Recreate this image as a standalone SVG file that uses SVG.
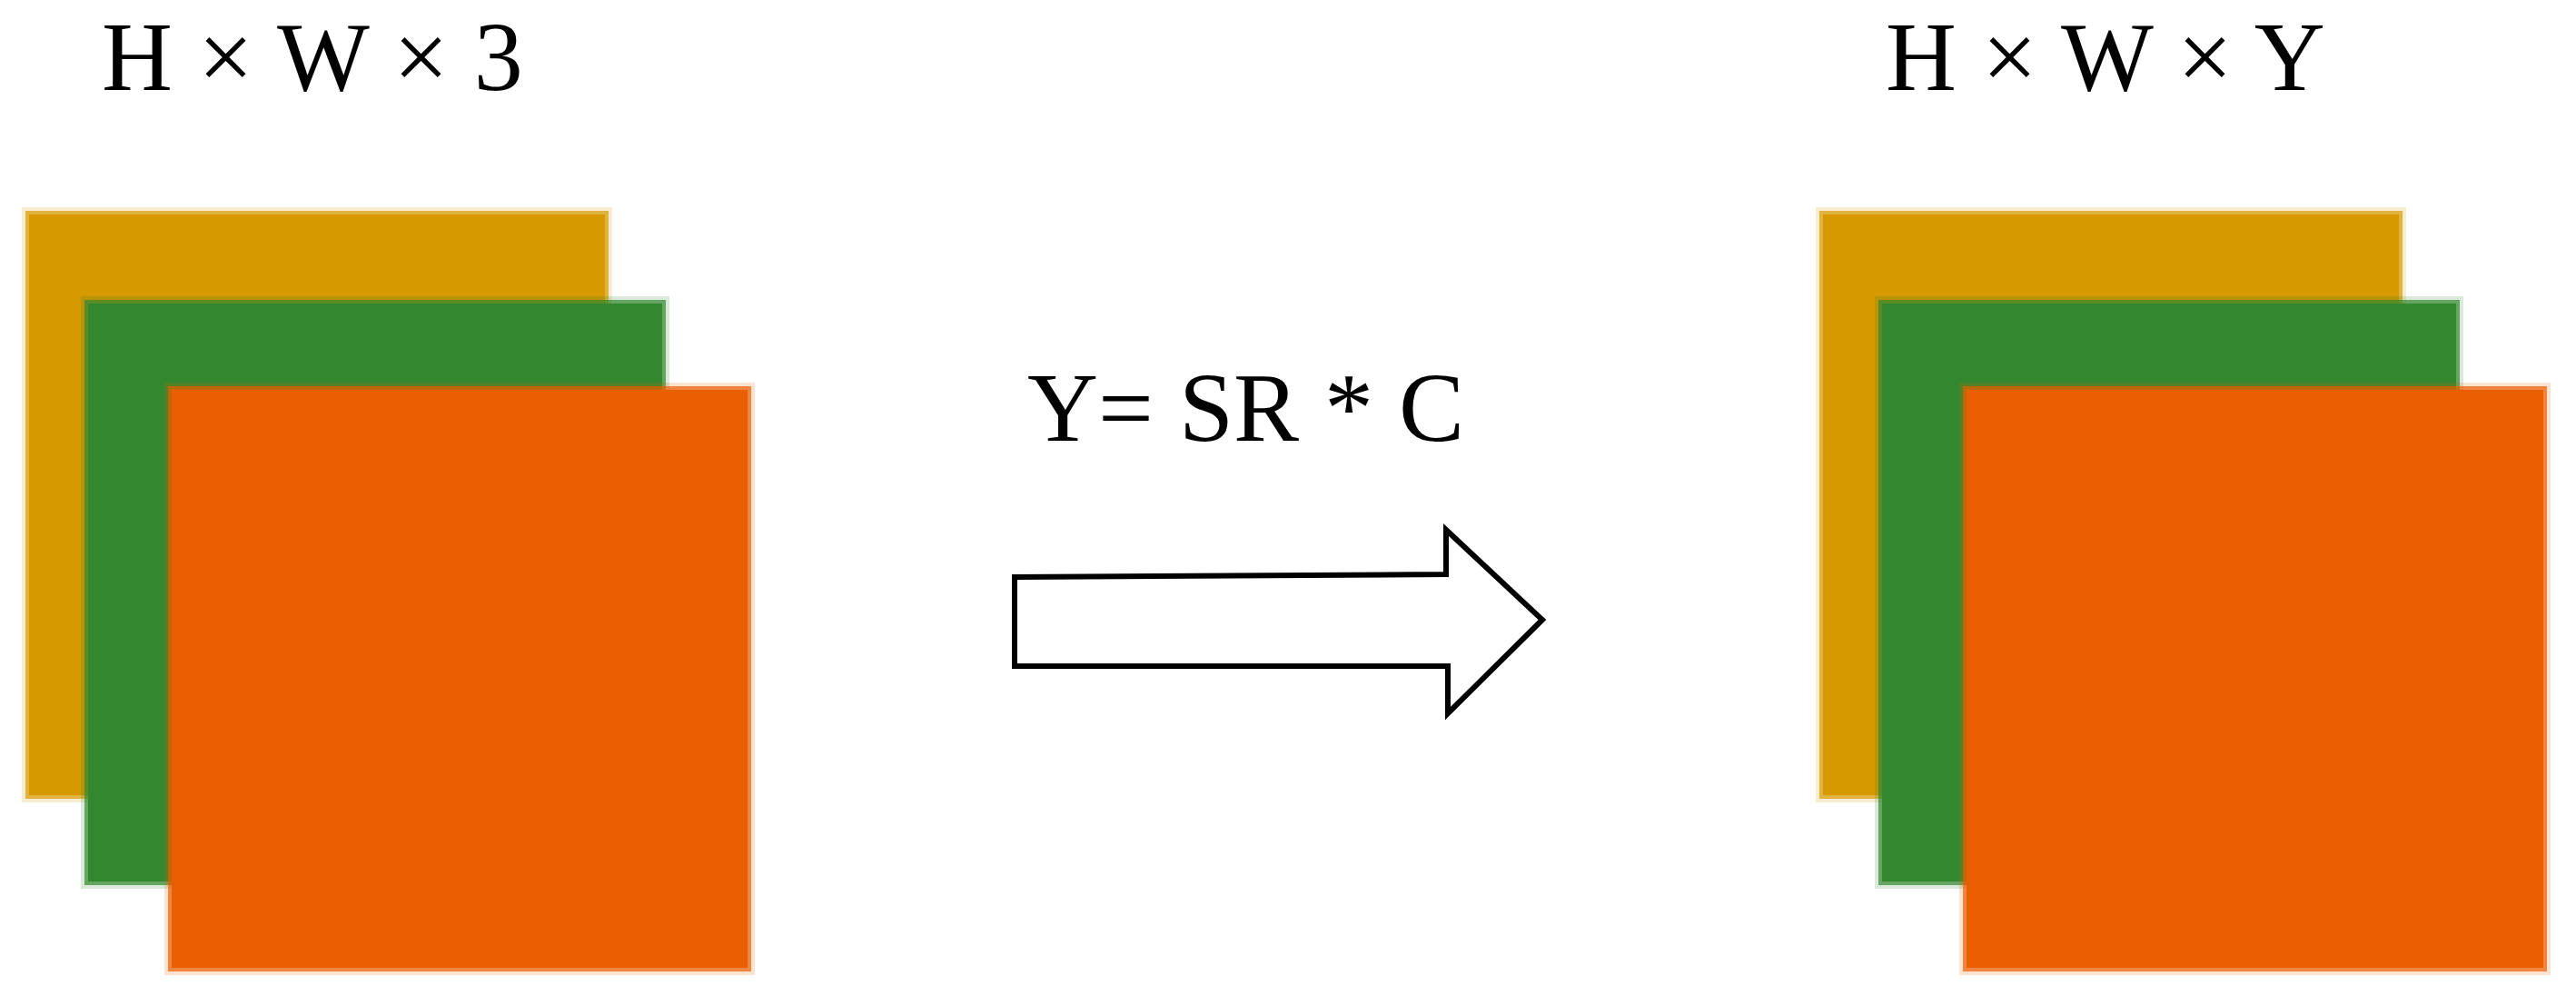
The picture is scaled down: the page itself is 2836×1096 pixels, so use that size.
<svg xmlns="http://www.w3.org/2000/svg" width="2836" height="1096" viewBox="0 0 2836 1096">
<style>
.lbl{font-family:"Liberation Serif","Times New Roman",serif;font-size:108px;fill:#000;word-spacing:1px}
.e1{opacity:0.18}.e2{opacity:0.7}
.y{fill:#D69900}.g{fill:#33872E}.o{fill:#E95E00}
</style>
<rect width="2836" height="1096" fill="#fff"/>
<g id="input-stack">
<text class="lbl" x="112" y="99">H × W × 3</text>
<g id="in-yellow">
<rect class="y e1" x="24" y="228" width="650" height="655"/>
<rect class="y e2" x="28" y="232" width="642" height="647"/>
<rect class="y" x="32" y="236" width="634" height="639"/>
</g>
<g id="in-green">
<rect class="g e1" x="89" y="326" width="648" height="652"/>
<rect class="g e2" x="93" y="330" width="640" height="644"/>
<rect class="g" x="97" y="334" width="632" height="636"/>
</g>
<g id="in-orange">
<rect class="o e1" x="181" y="421" width="650" height="652"/>
<rect class="o e2" x="185" y="425" width="642" height="644"/>
<rect class="o" x="189" y="429" width="634" height="636"/>
</g>
</g>
<g id="output-stack">
<text class="lbl" x="2076" y="99">H × W × Y</text>
<g id="out-yellow">
<rect class="y e1" x="1999" y="228" width="650" height="655"/>
<rect class="y e2" x="2003" y="232" width="642" height="647"/>
<rect class="y" x="2007" y="236" width="634" height="639"/>
</g>
<g id="out-green">
<rect class="g e1" x="2064" y="326" width="648" height="652"/>
<rect class="g e2" x="2068" y="330" width="640" height="644"/>
<rect class="g" x="2072" y="334" width="632" height="636"/>
</g>
<g id="out-orange">
<rect class="o e1" x="2157" y="421" width="651" height="652"/>
<rect class="o e2" x="2161" y="425" width="643" height="644"/>
<rect class="o" x="2165" y="429" width="635" height="636"/>
</g>
</g>
<g id="connectors">
<text class="lbl" x="1131" y="485">Y= SR * C</text>
<polygon points="1117,635 1592,632 1592,583 1698,682 1594,785 1594,733 1117,733" fill="#fff" stroke="#000" stroke-width="6" stroke-linejoin="miter"/>
</g>
</svg>
